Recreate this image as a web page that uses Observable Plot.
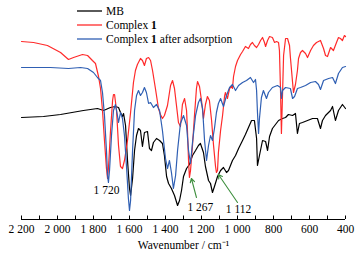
<!DOCTYPE html>
<html>
<head>
<meta charset="utf-8">
<script src="https://cdn.jsdelivr.net/npm/d3@7"></script>
<script src="https://cdn.jsdelivr.net/npm/@observablehq/plot@0.6"></script>
<style>
  html, body { margin: 0; padding: 0; background: #fff; }
  #chart svg { display: block; }
</style>
</head>
<body>
<div id="chart"></div>
<script>
// ---- Data (T is relative transmittance, arbitrary units) ----
const seriesNames = ["MB", "Complex 1", "Complex 1 after adsorption"];
const seriesColors = ["#000000", "#ff2a2a", "#2f5fb3"];

const mbWn = [2200,2078,1983,1856,1778,1744,1706,1678,1661,1650,1639,1633,1622,1611,1600,1594,1583,1572,1561,1550,1539,1528,1517,1500,1489,1478,1467,1450,1433,1417,1406,1394,1383,1367,1350,1333,1322,1311,1300,1283,1267,1250,1233,1217,1206,1189,1178,1161,1150,1139,1128,1111,1094,1078,1061,1050,1028,1011,994,972,956,939,922,906,894,889,878,861,844,833,822,806,789,772,750,733,717,694,678,667,656,639,611,583,556,539,528,511,483,472,456,439,417,400];
const mbT  = [102,103,105,109,111,109,112,113,112,107,103,106,94,59,31,24,41,69,84,91,89,73,87,88,71,69,77,81,79,76,64,43,36,31,24,14,19,29,43,51,55,64,69,74,76,67,53,39,36,27,33,43,49,52,47,49,59,64,71,79,85,92,99,99,81,54,64,79,78,69,83,91,95,99,101,102,105,104,106,86,96,97,99,101,101,91,99,104,109,113,99,109,115,111];

const c1Wn = [2200,2133,2056,1983,1939,1911,1861,1833,1806,1789,1772,1761,1750,1739,1728,1722,1717,1706,1694,1689,1683,1672,1661,1650,1639,1628,1611,1594,1578,1567,1556,1539,1528,1517,1506,1494,1483,1472,1456,1439,1428,1417,1406,1389,1372,1361,1350,1339,1328,1317,1306,1294,1283,1278,1272,1267,1261,1250,1239,1228,1222,1211,1200,1189,1178,1167,1156,1144,1133,1122,1117,1111,1106,1094,1083,1072,1067,1056,1044,1033,1028,1022,1011,1000,983,972,956,939,928,917,906,894,883,872,861,850,844,833,822,806,794,783,772,767,761,756,750,744,733,722,711,706,694,689,678,667,661,650,639,622,611,594,578,561,539,522,511,500,483,467,450,439,428,417,406,400];
const c1T  = [178,177,174,167,160,162,165,164,159,156,143,131,109,79,51,41,51,87,119,125,125,109,74,53,51,59,79,107,137,149,155,161,159,154,161,162,159,149,131,111,105,101,104,114,134,139,131,114,97,93,115,121,109,89,59,42,49,74,104,131,138,133,119,101,115,123,119,99,74,53,47,49,67,89,104,123,127,121,131,133,131,143,153,159,165,168,173,171,175,177,174,172,175,179,182,177,173,179,183,182,177,178,177,169,129,86,124,164,181,181,174,162,137,127,135,149,161,167,169,166,162,169,174,177,179,171,164,163,172,169,177,182,181,179,184,183];

const adsWn = [2200,2039,1939,1872,1833,1800,1778,1761,1750,1739,1728,1722,1717,1711,1700,1689,1678,1667,1661,1650,1639,1628,1617,1606,1600,1594,1583,1572,1561,1550,1539,1528,1517,1506,1494,1483,1467,1450,1433,1417,1400,1389,1378,1367,1356,1344,1333,1317,1300,1283,1272,1261,1250,1233,1217,1206,1194,1183,1172,1161,1150,1139,1128,1117,1106,1094,1078,1061,1044,1028,1011,994,972,950,928,911,900,894,889,883,878,867,856,839,828,806,778,761,756,750,733,706,694,683,667,650,622,594,567,550,539,522,494,472,456,439,417,400];
const adsT  = [152,152,151,152,151,147,142,139,127,104,69,44,37,49,84,109,115,104,97,107,101,84,54,21,9,19,69,109,124,129,124,127,132,127,116,117,112,115,109,89,61,51,59,47,31,44,69,96,104,94,69,56,77,104,117,121,111,79,59,74,84,79,91,107,116,121,113,124,132,135,129,134,137,139,142,137,140,129,107,86,101,122,129,121,127,132,134,132,121,129,132,131,121,123,131,132,134,137,138,135,130,139,141,142,136,146,152,153];

// x-axis ticks
const xTicks = [2200,2100,2000,1900,1800,1700,1600,1500,1400,1300,1200,1100,1000,900,800,700,600,500,400];
const xLabels = [2200,2000,1800,1600,1400,1200,1000,800,600,400];

// peak annotations
const annText = ["1 720", "1 267", "1 112"];
const annTextWn = [1728, 1206, 994];
const annTextT = [29, 12, 10];
const arrowTipWn = [1256, 1106];
const arrowTipT = [41, 45];
const arrowTailWn = [1228, 1000];
const arrowTailT = [22, 17];

// ---- Build tables ----
const lines = [
  ...mbWn.map((w, i) => ({s: seriesNames[0], wn: w, t: mbT[i]})),
  ...c1Wn.map((w, i) => ({s: seriesNames[1], wn: w, t: c1T[i]})),
  ...adsWn.map((w, i) => ({s: seriesNames[2], wn: w, t: adsT[i]}))
];
const notes = annText.map((txt, i) => ({txt, wn: annTextWn[i], t: annTextT[i]}));
const arrows = arrowTipWn.map((w, i) => ({x1: arrowTailWn[i], y1: arrowTailT[i], x2: w, y2: arrowTipT[i]}));

const fmt = d => d >= 1000 ? `${Math.floor(d / 1000)} ${String(d % 1000).padStart(3, "0")}` : String(d);
const FONT = "'Liberation Serif', 'Times New Roman', serif";

const chart = Plot.plot({
  width: 360,
  height: 257,
  marginLeft: 21,
  marginRight: 15,
  marginTop: 34,
  marginBottom: 38,
  style: {fontFamily: FONT, fontSize: "11px", color: "#000", background: "#fff"},
  x: {domain: [2200, 400]},
  y: {domain: [0, 185], axis: null},
  color: {domain: seriesNames, range: seriesColors},
  marks: [
    Plot.axisX({ticks: xLabels, tickSize: 0, tickPadding: 5, tickFormat: fmt, fontSize: 11.5,
      label: "Wavenumber / cm⁻¹", labelAnchor: "center", labelArrow: "none", labelOffset: 29}),
    Plot.ruleY([0], {stroke: "#000", strokeWidth: 1}),
    Plot.ruleX(xTicks, {y1: 0, y2: 3.5, stroke: "#000", strokeWidth: 1}),
    Plot.line(lines, {x: "wn", y: "t", z: "s", stroke: "s", strokeWidth: 1.2, curve: "linear"}),
    Plot.arrow(arrows, {x1: "x1", y1: "y1", x2: "x2", y2: "y2", stroke: "#3f8f3f", strokeWidth: 1.1, headLength: 6}),
    Plot.text(notes, {x: "wn", y: "t", text: "txt", fontSize: 11.5, fill: "#000", textAnchor: "middle"})
  ]
});

// ---- Legend inside the SVG (top) ----
const svg = d3.select(chart);
const leg = svg.append("g").attr("font-family", FONT).attr("font-size", 11.5).attr("text-anchor", "start");
seriesNames.forEach((name, i) => {
  const y = 11 + i * 14;
  leg.append("line").attr("x1", 77).attr("x2", 102).attr("y1", y).attr("y2", y)
    .attr("stroke", seriesColors[i]).attr("stroke-width", 1.3);
  const t = leg.append("text").attr("x", 106).attr("y", y).attr("dy", "0.35em")
    .attr("fill", "#000").attr("text-anchor", "start");
  if (name.startsWith("Complex 1")) {
    t.append("tspan").text("Complex ");
    t.append("tspan").attr("font-weight", "bold").text("1");
    const rest = name.slice("Complex 1".length);
    if (rest) t.append("tspan").text(rest);
  } else {
    t.text(name);
  }
});

document.getElementById("chart").appendChild(chart);
</script>
</body>
</html>
